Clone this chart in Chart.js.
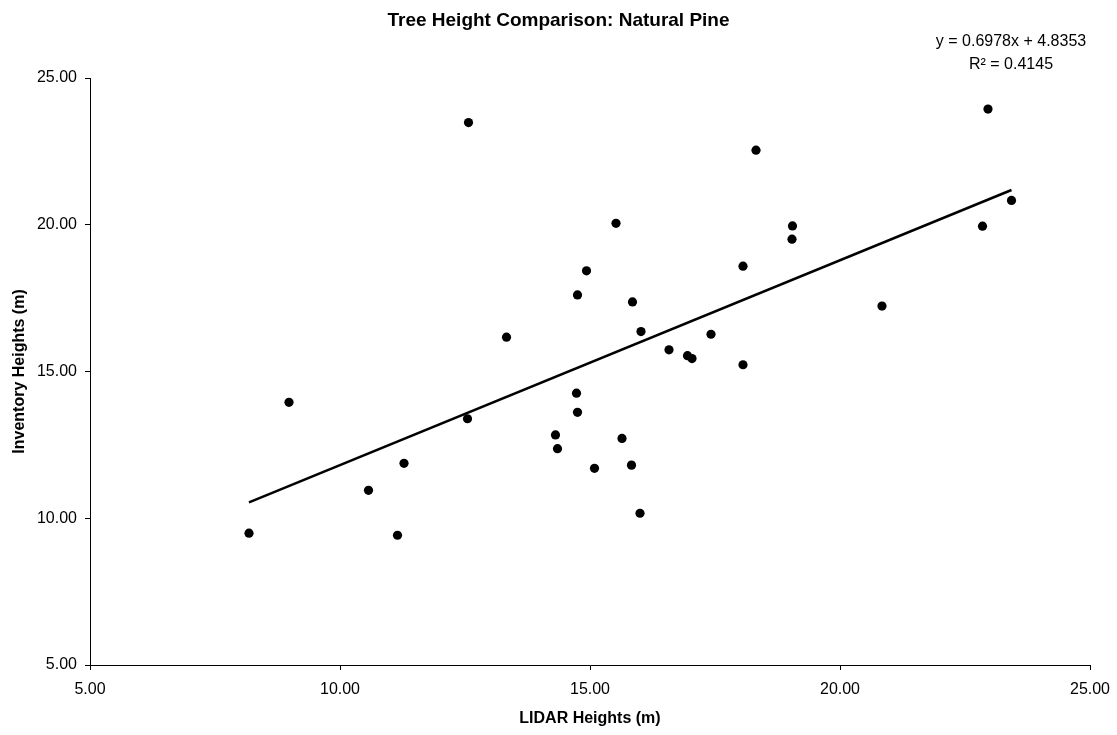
<!DOCTYPE html>
<html>
<head>
<meta charset="utf-8">
<title>Tree Height Comparison: Natural Pine</title>
<script src="https://cdn.jsdelivr.net/npm/chart.js@4.4.1/dist/chart.umd.min.js"></script>
<style>
  html, body { margin: 0; padding: 0; background: #fff; }
  #wrap { width: 1117px; height: 735px; position: relative; }
</style>
</head>
<body>
<div id="wrap"><canvas id="chart"></canvas></div>
<script>
// LIDAR vs inventory heights (m)
const lidarHeights = [
  8.18, 8.98, 10.57, 11.15, 11.28, 12.55, 12.57, 13.33, 14.31, 14.35,
  14.73, 14.75, 14.75, 14.93, 15.09, 15.52, 15.64, 15.83, 15.85, 16.00,
  16.02, 16.58, 16.95, 17.04, 17.42, 18.06, 18.06, 18.32, 19.05, 19.04,
  20.84, 22.85, 22.96, 23.43
];
const inventoryHeights = [
  9.49, 13.95, 10.95, 9.42, 11.87, 13.39, 23.48, 16.17, 12.84, 12.37,
  14.26, 13.61, 17.61, 18.43, 11.70, 20.05, 12.72, 11.81, 17.37, 10.17,
  16.36, 15.74, 15.54, 15.44, 16.27, 18.59, 15.23, 22.54, 19.96, 19.51,
  17.23, 19.95, 23.94, 20.83
];

// linear trendline as printed on the chart
const slope = 0.6978;
const intercept = 4.8353;
const rSquared = 0.4145;

const axisMin = 5;
const axisMax = 25;
const axisStep = 5;

const FONT = '"Liberation Sans", Arial, Helvetica, sans-serif';

const points = lidarHeights.map((x, i) => ({ x: x, y: inventoryHeights[i] }));
const xLo = Math.min(...lidarHeights);
const xHi = Math.max(...lidarHeights);
const trend = [
  { x: xLo, y: slope * xLo + intercept },
  { x: xHi, y: slope * xHi + intercept }
];

// equation label, top right above the plot
const equationLabel = {
  id: 'equationLabel',
  afterDraw(chart) {
    const ctx = chart.ctx;
    const area = chart.chartArea;
    const cx = area.right - 79;
    ctx.save();
    ctx.fillStyle = '#000';
    ctx.font = '16px ' + FONT;
    ctx.textAlign = 'center';
    ctx.textBaseline = 'middle';
    ctx.fillText('y = ' + slope.toFixed(4) + 'x + ' + intercept.toFixed(4), cx, area.top - 36);
    ctx.fillText('R\u00B2 = ' + rSquared.toFixed(4), cx, area.top - 13);
    ctx.restore();
  }
};

const axisCommon = {
  type: 'linear',
  min: axisMin,
  max: axisMax,
  grid: {
    display: true,
    drawOnChartArea: false,
    drawTicks: true,
    tickLength: 5,
    color: '#000'
  },
  border: { display: true, color: '#000', width: 1 }
};

new Chart(document.getElementById('chart'), {
  type: 'scatter',
  data: {
    datasets: [
      {
        label: 'Trendline',
        type: 'line',
        data: trend,
        borderColor: '#000',
        borderWidth: 2.5,
        pointRadius: 0,
        fill: false,
        order: 0
      },
      {
        label: 'Natural Pine',
        data: points,
        backgroundColor: '#000',
        borderColor: '#000',
        borderWidth: 0,
        pointRadius: 4.6,
        order: 1
      }
    ]
  },
  options: {
    responsive: true,
    maintainAspectRatio: false,
    animation: false,
    layout: { padding: 0 },
    scales: {
      x: Object.assign({}, axisCommon, {
        position: 'bottom',
        ticks: {
          stepSize: axisStep,
          padding: 10,
          color: '#000',
          font: { family: FONT, size: 16 },
          maxRotation: 0,
          callback: v => Number(v).toFixed(2)
        },
        title: {
          display: true,
          text: 'LIDAR Heights (m)',
          color: '#000',
          font: { family: FONT, size: 16, weight: 'bold' },
          padding: { top: 0, bottom: 7 }
        },
        afterFit: s => {
          s.height = 70;
          s.paddingLeft = 0;
          s.paddingRight = 0;
        }
      }),
      y: Object.assign({}, axisCommon, {
        position: 'left',
        ticks: {
          stepSize: axisStep,
          padding: 8,
          color: '#000',
          font: { family: FONT, size: 16 },
          callback: v => Number(v).toFixed(2)
        },
        title: {
          display: true,
          text: 'Inventory Heights (m)',
          color: '#000',
          font: { family: FONT, size: 16, weight: 'bold' },
          padding: { top: 10, bottom: 0 }
        },
        afterFit: s => { s.width = 90; }
      }),
      // empty right-hand strip so the title centres on the whole page
      spacer: {
        type: 'linear',
        position: 'right',
        min: axisMin,
        max: axisMax,
        grid: { display: false },
        border: { display: false },
        ticks: { display: false },
        afterFit: s => { s.width = 27; }
      }
    },
    plugins: {
      legend: { display: false },
      tooltip: { enabled: false },
      title: {
        display: true,
        text: 'Tree Height Comparison: Natural Pine',
        color: '#000',
        font: { family: FONT, size: 19, weight: 'bold' },
        padding: { top: 9, bottom: 46.2 }
      }
    }
  },
  plugins: [equationLabel]
});
</script>
</body>
</html>
